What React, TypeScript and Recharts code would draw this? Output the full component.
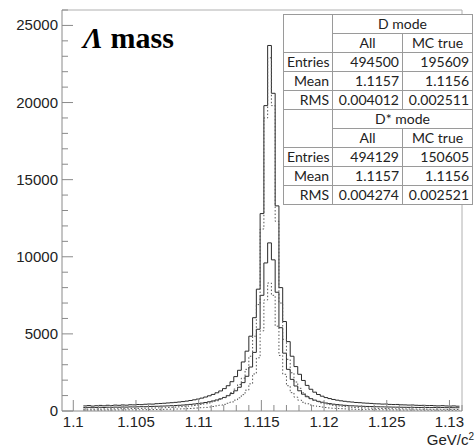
import { ComposedChart, Line, ReferenceLine, XAxis, YAxis } from "recharts";

// histogram binning: first bin low edge and bin width (GeV/c^2)
const BIN_LO = 1.1008;
const BIN_W = 0.0003;

// bin contents, 100 bins, peak bin is index 49
const dModeAll = [
  330, 352, 318, 344, 362, 338, 371, 356, 382, 368,
  394, 377, 405, 398, 421, 412, 437, 452, 446, 474,
  488, 502, 521, 538, 560, 583, 610, 642, 680, 725,
  775, 835, 905, 985, 1075, 1180, 1300, 1450, 1640, 1900,
  2230, 2640, 3180, 3880, 4850, 6050, 7900, 12800, 19800, 23700,
  20600, 13300, 8000, 5800, 4500, 3550, 2880, 2380, 1980, 1660,
  1410, 1220, 1070, 960, 870, 805, 748, 702, 661, 630,
  598, 579, 552, 540, 518, 505, 491, 470, 463, 447,
  452, 428, 419, 424, 401, 396, 383, 390, 371, 362,
  368, 350, 356, 341, 333, 346, 328, 319, 331, 312,
];

const dModeMcTrue = [
  118, 126, 112, 130, 124, 135, 128, 141, 137, 145,
  150, 147, 158, 162, 168, 171, 180, 186, 190, 198,
  207, 215, 228, 240, 252, 268, 285, 305, 330, 358,
  390, 428, 472, 525, 590, 665, 755, 865, 1010, 1190,
  1420, 1720, 2130, 2700, 3550, 4850, 6900, 11800, 19000, 22900,
  19800, 12300, 7000, 4650, 3350, 2480, 1880, 1470, 1180, 970,
  810, 690, 600, 525, 462, 415, 372, 338, 308, 284,
  262, 245, 228, 215, 203, 192, 184, 175, 168, 161,
  157, 150, 146, 140, 137, 132, 129, 125, 122, 119,
  115, 117, 110, 108, 111, 104, 102, 106, 99, 97,
];

const dStarAll = [
  222, 236, 215, 230, 241, 228, 245, 238, 251, 246,
  258, 252, 266, 262, 274, 281, 278, 292, 298, 305,
  312, 322, 331, 345, 355, 370, 386, 405, 428, 452,
  480, 512, 552, 598, 652, 715, 790, 880, 990, 1130,
  1310, 1540, 1840, 2250, 2850, 3800, 5300, 7500, 9600, 10900,
  9800, 7700, 5400, 3750, 2700, 2050, 1620, 1310, 1090, 925,
  800, 705, 628, 568, 518, 478, 442, 414, 390, 368,
  352, 336, 325, 312, 303, 294, 288, 279, 273, 268,
  262, 258, 252, 249, 244, 241, 236, 238, 231, 228,
  233, 225, 222, 228, 219, 224, 216, 220, 213, 210,
];

const dStarMcTrue = [
  52, 56, 54, 58, 57, 60, 62, 61, 65, 68,
  67, 71, 74, 76, 79, 82, 85, 89, 93, 97,
  101, 106, 112, 118, 125, 133, 142, 152, 164, 178,
  194, 212, 234, 260, 292, 330, 376, 432, 502, 590,
  705, 855, 1060, 1350, 1760, 2400, 3450, 5200, 7200, 8300,
  7500, 5500, 3600, 2380, 1640, 1190, 900, 705, 568, 468,
  392, 334, 290, 254, 225, 200, 180, 163, 149, 137,
  127, 118, 111, 104, 99, 94, 89, 86, 82, 79,
  76, 74, 71, 69, 67, 65, 63, 62, 60, 58,
  57, 56, 54, 53, 52, 51, 50, 49, 48, 47,
];

const X_TICKS = [
  1.1, 1.101, 1.102, 1.103, 1.104, 1.105, 1.106, 1.107, 1.108, 1.109,
  1.11, 1.111, 1.112, 1.113, 1.114, 1.115, 1.116, 1.117, 1.118, 1.119,
  1.12, 1.121, 1.122, 1.123, 1.124, 1.125, 1.126, 1.127, 1.128, 1.129,
  1.13, 1.131,
];
const X_LABELS = [1.1, 1.105, 1.11, 1.115, 1.12, 1.125, 1.13];

const Y_TICKS = [
  0, 1000, 2000, 3000, 4000, 5000, 6000, 7000, 8000, 9000,
  10000, 11000, 12000, 13000, 14000, 15000, 16000, 17000, 18000, 19000,
  20000, 21000, 22000, 23000, 24000, 25000, 26000,
];
const Y_LABELS = [0, 5000, 10000, 15000, 20000, 25000];

const tableHead = ["D mode", "D* mode"];
const tableCols = ["All", "MC true"];
const tableRows = [
  [
    ["Entries", "494500", "195609"],
    ["Mean", "1.1157", "1.1156"],
    ["RMS", "0.004012", "0.002511"],
  ],
  [
    ["Entries", "494129", "150605"],
    ["Mean", "1.1157", "1.1156"],
    ["RMS", "0.004274", "0.002521"],
  ],
];

const data = Array.from({ length: dModeAll.length + 1 }, (_, i) => {
  const k = Math.min(i, dModeAll.length - 1);
  return {
    x: +(BIN_LO + i * BIN_W).toFixed(4),
    dAll: dModeAll[k],
    dMc: dModeMcTrue[k],
    sAll: dStarAll[k],
    sMc: dStarMcTrue[k],
  };
});

const AXIS = "#8a8a8a";
const LABEL_FONT = "'Liberation Sans', Arial, sans-serif";

function XTick({ x, y, payload }: any) {
  const major = X_LABELS.some((v) => Math.abs(v - payload.value) < 1e-6);
  return (
    <g>
      <line x1={x} x2={x} y1={y} y2={y - (major ? 11 : 6)} stroke={AXIS} />
      {major && (
        <text x={x} y={y + 16} textAnchor="middle" fontSize={15} fontFamily={LABEL_FONT} fill="#222">
          {String(Number(payload.value.toFixed(3)))}
        </text>
      )}
    </g>
  );
}

function YTick({ x, y, payload }: any) {
  const major = Y_LABELS.includes(payload.value);
  return (
    <g>
      <line x1={x} x2={x + (major ? 11 : 6)} y1={y} y2={y} stroke={AXIS} />
      {major && (
        <text x={x - 4} y={y + 5} textAnchor="end" fontSize={15} fontFamily={LABEL_FONT} fill="#222">
          {payload.value}
        </text>
      )}
    </g>
  );
}

const cell: React.CSSProperties = {
  border: "1px solid #9a9a9a",
  height: 18,
  padding: "0 3px",
  lineHeight: "18px",
  whiteSpace: "nowrap",
};

function StatsTable() {
  return (
    <table
      style={{
        position: "absolute",
        left: 283,
        top: 14,
        width: 189,
        borderCollapse: "collapse",
        background: "#fff",
        fontFamily: "Lato, 'Open Sans', sans-serif",
        fontSize: 14,
        color: "#222",
        tableLayout: "fixed",
      }}
    >
      <colgroup>
        <col style={{ width: 49 }} />
        <col style={{ width: 70 }} />
        <col style={{ width: 70 }} />
      </colgroup>
      <tbody>
        {tableHead.map((head, b) => [
          <tr key={`h${b}`}>
            <td style={cell} rowSpan={2} />
            <td style={{ ...cell, textAlign: "center" }} colSpan={2}>
              {head}
            </td>
          </tr>,
          <tr key={`c${b}`}>
            {tableCols.map((c) => (
              <td key={c} style={{ ...cell, textAlign: "center" }}>
                {c}
              </td>
            ))}
          </tr>,
          ...tableRows[b].map((row) => (
            <tr key={`${b}${row[0]}`}>
              {row.map((v, j) => (
                <td key={j} style={{ ...cell, textAlign: "right" }}>
                  {v}
                </td>
              ))}
            </tr>
          )),
        ])}
      </tbody>
    </table>
  );
}

export default function App() {
  return (
    <div style={{ position: "absolute", left: 0, top: 0, width: 475, height: 447, background: "#fff" }}>
      <ComposedChart width={475} height={447} data={data} margin={{ top: 10, right: 13, left: 0, bottom: 0 }}>
        <XAxis
          dataKey="x"
          type="number"
          domain={[1.0991, 1.131]}
          allowDataOverflow
          ticks={X_TICKS}
          interval={0}
          height={36}
          tickSize={0}
          tickMargin={0}
          tickLine={false}
          axisLine={{ stroke: AXIS }}
          tick={(p: any) => <XTick {...p} />}
        />
        <YAxis
          type="number"
          domain={[0, 26000]}
          allowDataOverflow
          ticks={Y_TICKS}
          interval={0}
          width={62}
          tickSize={0}
          tickMargin={0}
          tickLine={false}
          axisLine={{ stroke: AXIS }}
          tick={(p: any) => <YTick {...p} />}
        />
        <ReferenceLine y={26000} stroke="#b0b0b0" />
        <ReferenceLine x={1.131} stroke="#b0b0b0" />
        <Line type="stepAfter" dataKey="dAll" stroke="#2a2a2a" strokeWidth={1} dot={false} isAnimationActive={false} />
        <Line type="stepAfter" dataKey="sAll" stroke="#2a2a2a" strokeWidth={1} dot={false} isAnimationActive={false} />
        <Line
          type="stepAfter"
          dataKey="dMc"
          stroke="#555"
          strokeWidth={1}
          strokeDasharray="1.5 2"
          dot={false}
          isAnimationActive={false}
        />
        <Line
          type="stepAfter"
          dataKey="sMc"
          stroke="#555"
          strokeWidth={1}
          strokeDasharray="1.5 2"
          dot={false}
          isAnimationActive={false}
        />
      </ComposedChart>
      <div
        style={{
          position: "absolute",
          left: 83,
          top: 23,
          fontFamily: "'Liberation Serif', 'Times New Roman', serif",
          fontWeight: "bold",
          fontSize: 30,
          lineHeight: "30px",
          color: "#000",
          whiteSpace: "nowrap",
        }}
      >
        <i>Λ</i> mass
      </div>
      <div
        style={{
          position: "absolute",
          right: 1,
          top: 432,
          fontFamily: LABEL_FONT,
          fontSize: 15,
          lineHeight: "15px",
          color: "#222",
          whiteSpace: "nowrap",
        }}
      >
        GeV/c
        <span style={{ fontSize: 10, position: "relative", top: -5 }}>2</span>
      </div>
      <StatsTable />
    </div>
  );
}
